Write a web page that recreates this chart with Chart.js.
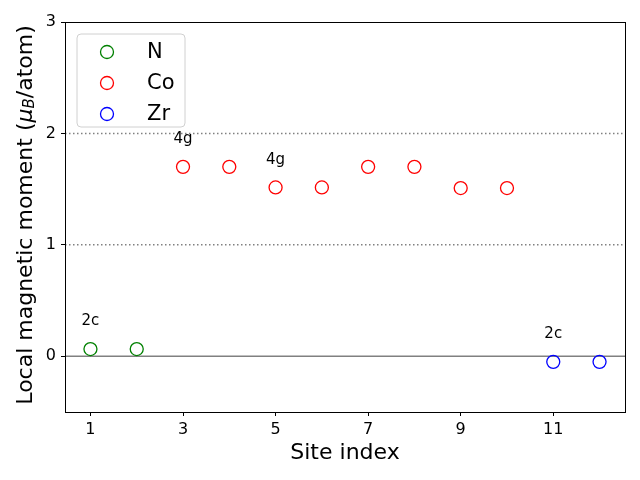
<!DOCTYPE html>
<html>
<head>
<meta charset="utf-8">
<script src="https://cdn.jsdelivr.net/npm/chart.js@4/dist/chart.umd.min.js"></script>
<style>
html,body{margin:0;padding:0;background:#fff;}
#wrap{width:640px;height:480px;}
</style>
</head>
<body>
<div id="wrap"><canvas id="c" width="640" height="480"></canvas></div>
<script>
// ---- data ----
const nSites = [1, 2];
const nValues = [0.065, 0.065];
const coSites = [3, 4, 5, 6, 7, 8, 9, 10];
const coValues = [1.70, 1.70, 1.515, 1.515, 1.70, 1.70, 1.51, 1.51];
const zrSites = [11, 12];
const zrValues = [-0.05, -0.05];
const seriesNames = ['N', 'Co', 'Zr'];
const xTicks = [1, 3, 5, 7, 9, 11];
const yTicks = [0, 1, 2, 3];
const refLines = [0, 1, 2];
const annSites = [1, 3, 5, 11];
const annTexts = ['2c', '4g', '4g', '2c'];
const xTitle = 'Site index';

const FONT = "'DejaVu Sans', sans-serif";
const colors = ['#008000', '#ff0000', '#0000ff'];

function pts(xs, ys) { return xs.map((x, i) => ({x: x, y: ys[i]})); }
const allX = nSites.concat(coSites, zrSites);
const allY = nValues.concat(coValues, zrValues);

const mk = (label, data, color) => ({
  label, data, type: 'scatter',
  pointStyle: 'circle', pointRadius: 6.5, pointHoverRadius: 6.5,
  borderColor: color, backgroundColor: 'rgba(0,0,0,0)', borderWidth: 1.3,
  pointBorderWidth: 1.3
});

const decor = {
  id: 'decor',
  beforeDatasetsDraw(chart) {
    const {ctx, chartArea: a, scales: {x, y}} = chart;
    ctx.save();
    ctx.beginPath(); ctx.rect(a.left, a.top, a.right - a.left, a.bottom - a.top); ctx.clip();
    refLines.forEach(v => {
      const py = y.getPixelForValue(v);
      ctx.beginPath();
      ctx.strokeStyle = '#808080';
      ctx.lineWidth = 1.5;
      ctx.setLineDash(v === 0 ? [] : [1.5, 2.5]);
      ctx.moveTo(a.left, py); ctx.lineTo(a.right, py); ctx.stroke();
    });
    ctx.restore();
  },
  afterDatasetsDraw(chart) {
    const {ctx, chartArea: a, scales: {x, y}} = chart;
    ctx.save();
    // annotations
    ctx.fillStyle = '#000';
    ctx.font = '15px ' + FONT;
    ctx.textAlign = 'center'; ctx.textBaseline = 'middle';
    annSites.forEach((s, i) => {
      const v = allY[allX.indexOf(s)];
      ctx.fillText(annTexts[i], x.getPixelForValue(s), y.getPixelForValue(v + 0.25));
    });
    // frame
    ctx.strokeStyle = '#000'; ctx.lineWidth = 1; ctx.setLineDash([]);
    ctx.strokeRect(Math.round(a.left) + 0.5, Math.round(a.top) + 0.5, Math.round(a.right - a.left), Math.round(a.bottom - a.top));
    // legend
    const lx = 77, ly = 34, lw = 108, lh = 93, r = 4;
    ctx.beginPath();
    ctx.moveTo(lx + r, ly); ctx.lineTo(lx + lw - r, ly); ctx.quadraticCurveTo(lx + lw, ly, lx + lw, ly + r);
    ctx.lineTo(lx + lw, ly + lh - r); ctx.quadraticCurveTo(lx + lw, ly + lh, lx + lw - r, ly + lh);
    ctx.lineTo(lx + r, ly + lh); ctx.quadraticCurveTo(lx, ly + lh, lx, ly + lh - r);
    ctx.lineTo(lx, ly + r); ctx.quadraticCurveTo(lx, ly, lx + r, ly);
    ctx.fillStyle = 'rgba(255,255,255,0.8)'; ctx.fill();
    ctx.strokeStyle = '#d0d0d0'; ctx.lineWidth = 1; ctx.stroke();
    const rows = [52, 83, 114];
    chart.data.datasets.forEach((ds, i) => {
      ctx.beginPath();
      ctx.arc(107, rows[i], 6.5, 0, Math.PI * 2);
      ctx.strokeStyle = ds.borderColor; ctx.lineWidth = 1.3; ctx.stroke();
      ctx.fillStyle = '#000';
      ctx.font = '21px ' + FONT;
      ctx.textAlign = 'left'; ctx.textBaseline = 'middle';
      ctx.fillText(ds.label, 147, rows[i] + 1);
    });
    // x title
    ctx.font = '22px ' + FONT;
    ctx.textAlign = 'center'; ctx.textBaseline = 'middle';
    ctx.fillText(xTitle, (a.left + a.right) / 2, 453);
    // y title with italic mu and subscript B
    ctx.translate(26, 215);
    ctx.rotate(-Math.PI / 2);
    const parts = [
      {t: 'Local magnetic moment (', f: '22px ' + FONT, dy: 0},
      {t: 'μ', f: 'italic 22px ' + FONT, dy: 0},
      {t: 'B', f: 'italic 15px ' + FONT, dy: 4},
      {t: '/atom)', f: '22px ' + FONT, dy: 0}
    ];
    let total = 0;
    parts.forEach(p => { ctx.font = p.f; p.w = ctx.measureText(p.t).width; total += p.w; });
    let cx = -total / 2;
    ctx.textAlign = 'left'; ctx.textBaseline = 'middle';
    parts.forEach(p => { ctx.font = p.f; ctx.fillText(p.t, cx, p.dy); cx += p.w; });
    ctx.restore();
  }
};

new Chart(document.getElementById('c'), {
  type: 'scatter',
  data: {
    datasets: [
      mk(seriesNames[0], pts(nSites, nValues), colors[0]),
      mk(seriesNames[1], pts(coSites, coValues), colors[1]),
      mk(seriesNames[2], pts(zrSites, zrValues), colors[2])
    ]
  },
  options: {
    responsive: false,
    animation: false,
    devicePixelRatio: 1,
    layout: {padding: {top: 22, right: 15, left: 0, bottom: 0}},
    plugins: {legend: {display: false}, tooltip: {enabled: false}},
    scales: {
      x: {
        type: 'linear', min: 0.45, max: 12.55,
        afterBuildTicks: s => { s.ticks = xTicks.map(v => ({value: v})); },
        afterFit: s => { s.height = 68; },
        grid: {display: true, drawOnChartArea: false, drawTicks: true, tickLength: 4, color: '#000', tickColor: '#000', lineWidth: 1},
        border: {display: false},
        ticks: {color: '#000', font: {family: FONT, size: 16}, padding: 4, maxRotation: 0, autoSkip: false}
      },
      y: {
        type: 'linear', min: -0.5, max: 3,
        afterBuildTicks: s => { s.ticks = yTicks.map(v => ({value: v})); },
        afterFit: s => { s.width = 65; },
        grid: {display: true, drawOnChartArea: false, drawTicks: true, tickLength: 4, color: '#000', tickColor: '#000', lineWidth: 1},
        border: {display: false},
        ticks: {color: '#000', font: {family: FONT, size: 16}, padding: 5}
      }
    }
  },
  plugins: [decor]
});
</script>
</body>
</html>
